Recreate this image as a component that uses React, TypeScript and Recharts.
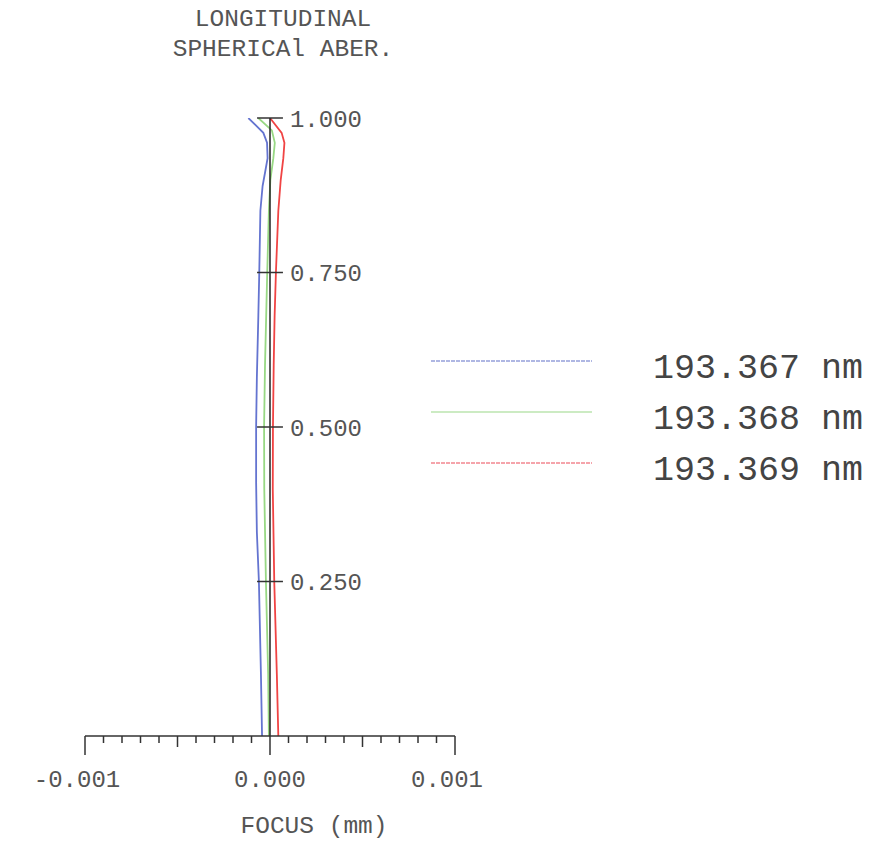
import React from 'react';
import { LineChart, Line, XAxis, YAxis, ReferenceLine, Legend } from 'recharts';

const FONT = '"Liberation Mono", "Courier New", monospace';

// relative pupil height (h) vs longitudinal focus shift in mm (f)
const blueData = [
  { h: 0.0, f: -0.000043 },
  { h: 0.1, f: -0.000049 },
  { h: 0.25, f: -0.00006 },
  { h: 0.33, f: -0.000071 },
  { h: 0.41, f: -0.000075 },
  { h: 0.5, f: -0.000075 },
  { h: 0.58, f: -0.000071 },
  { h: 0.68, f: -0.000063 },
  { h: 0.75, f: -0.000058 },
  { h: 0.85, f: -0.000052 },
  { h: 0.89, f: -0.00004 },
  { h: 0.913, f: -0.000026 },
  { h: 0.935, f: -0.000013 },
  { h: 0.96, f: -0.000016 },
  { h: 0.976, f: -0.000036 },
  { h: 1.0, f: -0.000117 },
];

const greenData = [
  { h: 0.0, f: -0.000006 },
  { h: 0.1, f: -0.00001 },
  { h: 0.25, f: -0.000022 },
  { h: 0.4, f: -0.000031 },
  { h: 0.5, f: -0.000032 },
  { h: 0.6, f: -0.000027 },
  { h: 0.75, f: -0.000015 },
  { h: 0.85, f: -0.000006 },
  { h: 0.9, f: 0.000002 },
  { h: 0.935, f: 0.000018 },
  { h: 0.96, f: 0.000026 },
  { h: 0.98, f: 0.00001 },
  { h: 1.0, f: -0.000063 },
];

const redData = [
  { h: 0.0, f: 0.000045 },
  { h: 0.1, f: 0.000037 },
  { h: 0.25, f: 0.000023 },
  { h: 0.4, f: 0.000015 },
  { h: 0.5, f: 0.000016 },
  { h: 0.6, f: 0.00002 },
  { h: 0.68, f: 0.000025 },
  { h: 0.75, f: 0.000032 },
  { h: 0.85, f: 0.000045 },
  { h: 0.9, f: 0.000058 },
  { h: 0.935, f: 0.000072 },
  { h: 0.96, f: 0.000078 },
  { h: 0.976, f: 0.000063 },
  { h: 1.0, f: 0.0 },
];

const seriesNames = ['193.367 nm', '193.368 nm', '193.369 nm'];
const seriesColors = ['#6474d0', '#98d884', '#f04444'];
const legendColors = ['#6070c8', '#9ad888', '#ec4a58'];
const legendDashes = ['4 1', '', '4 1'];

const xTicks = [
  -0.001, -0.0009, -0.0008, -0.0007, -0.0006, -0.0005, -0.0004, -0.0003, -0.0002, -0.0001,
  0, 0.0001, 0.0002, 0.0003, 0.0004, 0.0005, 0.0006, 0.0007, 0.0008, 0.0009, 0.001,
];
const xMajorTicks = [-0.001, 0, 0.001];
const xMidTicks = [-0.0005, 0.0005];
const yTicks = [0.25, 0.5, 0.75, 1.0];
const yTickHalfWidth = 0.00007;

const AXIS = '#333';
const TEXT = '#555';

const XTick = (props: any) => {
  const { x, y, payload } = props;
  const v = payload.value;
  const major = xMajorTicks.includes(v);
  const mid = xMidTicks.includes(v);
  const len = major ? 19 : mid ? 11 : 7;
  return (
    <g>
      <line x1={x} y1={y} x2={x} y2={y + len} stroke={AXIS} strokeWidth={1.5} />
      {major && (
        <text
          x={x}
          y={y + 51}
          dx={v === 0 ? 0 : -8}
          textAnchor="middle"
          fontFamily={FONT}
          fontSize={24}
          fill={TEXT}
        >
          {v.toFixed(3)}
        </text>
      )}
    </g>
  );
};

const LegendContent = (props: any) => {
  const payload = props.payload || [];
  return (
    <div style={{ position: 'relative', width: 440 }}>
      {payload.map((p: any, i: number) => (
        <div key={i} style={{ position: 'relative', height: 51 }}>
          <svg
            width={161}
            height={2}
            style={{ position: 'absolute', left: 0, top: 20, overflow: 'visible' }}
          >
            <line
              x1={0}
              y1={1}
              x2={161}
              y2={1}
              stroke={legendColors[i]}
              strokeWidth={1.2}
              strokeDasharray={legendDashes[i] || undefined}
            />
          </svg>
          <div
            style={{
              position: 'absolute',
              left: 222,
              top: 12,
              fontFamily: FONT,
              fontSize: 35,
              lineHeight: '35px',
              color: '#444',
              whiteSpace: 'pre',
            }}
          >
            {p.value}
          </div>
        </div>
      ))}
    </div>
  );
};

export default function App() {
  const datasets = [blueData, greenData, redData];
  return (
    <div style={{ position: 'relative', width: 866, height: 834 }}>
      <div
        style={{
          position: 'absolute',
          left: 125,
          top: -3,
          width: 300,
          textAlign: 'center',
          whiteSpace: 'pre',
          fontFamily: FONT,
          fontSize: 24.5,
          lineHeight: '30px',
          color: TEXT,
        }}
      >
        {'LONGITUDINAL\nSPHERICAl ABER.'}
      </div>
      <LineChart width={866} height={834} margin={{ top: 110, right: 419, bottom: 26, left: 77 }}>
        <XAxis
          type="number"
          dataKey="f"
          domain={[-0.001, 0.001]}
          ticks={xTicks}
          interval={0}
          allowDataOverflow
          height={80}
          tickSize={0}
          tickMargin={0}
          tickLine={false}
          axisLine={{ stroke: AXIS, strokeWidth: 1.5 }}
          tick={<XTick />}
          label={{
            value: 'FOCUS (mm)',
            position: 'bottom',
            offset: 0,
            dx: 44,
            fontFamily: FONT,
            fontSize: 24.5,
            fill: TEXT,
          }}
        />
        <YAxis type="number" dataKey="h" domain={[0, 1]} hide allowDataOverflow />
        {datasets.map((d, i) => (
          <Line
            key={i}
            data={d}
            dataKey="h"
            name={seriesNames[i]}
            type="linear"
            stroke={seriesColors[i]}
            strokeWidth={1.8}
            dot={false}
            activeDot={false}
            isAnimationActive={false}
          />
        ))}
        <ReferenceLine x={0} stroke="#222" strokeWidth={1.5} />
        {yTicks.map((t) => (
          <ReferenceLine
            key={t}
            segment={[
              { x: -yTickHalfWidth, y: t },
              { x: yTickHalfWidth, y: t },
            ]}
            stroke={AXIS}
            strokeWidth={1.5}
            label={{
              value: t.toFixed(3),
              position: 'right',
              offset: 7,
              fontFamily: FONT,
              fontSize: 24,
              fill: TEXT,
            }}
          />
        ))}
        <Legend
          layout="vertical"
          align="center"
          verticalAlign="middle"
          content={<LegendContent />}
          wrapperStyle={{ left: 423, top: 332, width: 440 }}
        />
      </LineChart>
    </div>
  );
}
